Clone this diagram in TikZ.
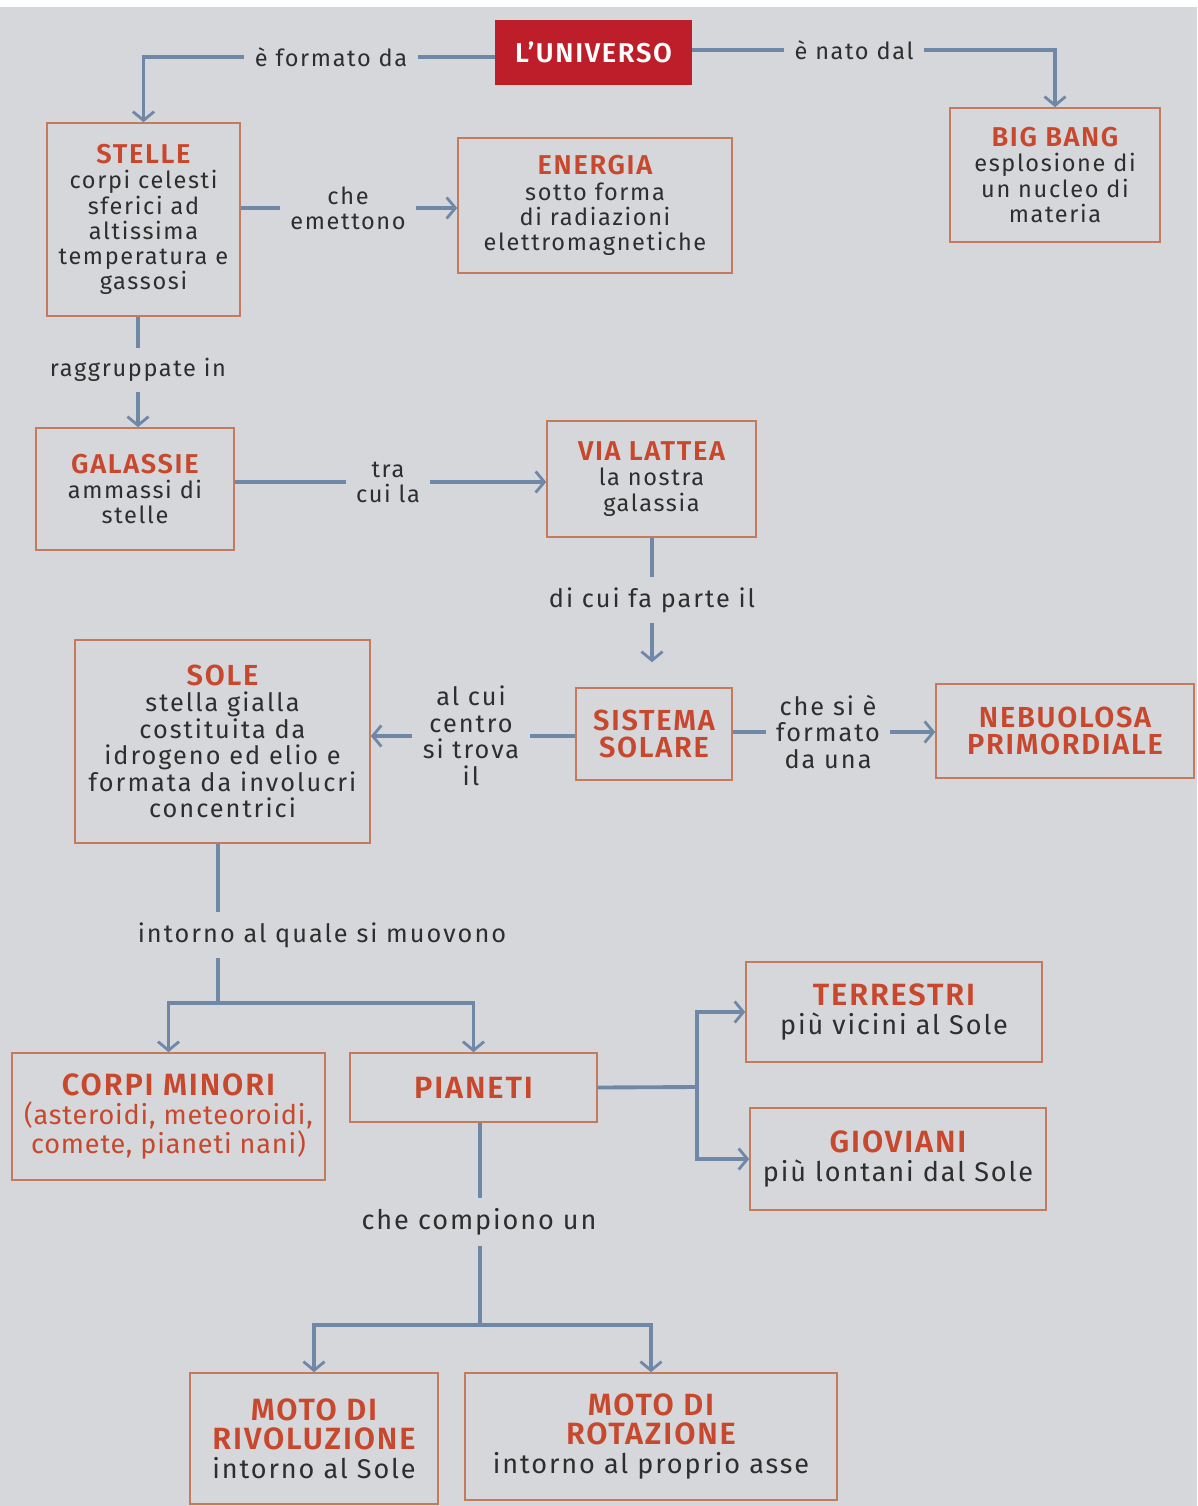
\documentclass[tikz,border=0pt]{standalone}
\usepackage{fontspec}
\setmainfont{Fira Sans}
\newfontfamily\ttlfont{Fira Sans SemiBold}
\usetikzlibrary{arrows.meta,calc}
\definecolor{bg}{HTML}{D6D7DA}
\definecolor{conn}{HTML}{7088A8}
\definecolor{ttlc}{HTML}{C8482E}
\definecolor{bord}{HTML}{C47A5C}
\definecolor{txt}{HTML}{2E2E2E}
\definecolor{univc}{HTML}{BE1E2A}
\newcommand{\bfa}{\fontsize{13.4}{14.3}\selectfont\addfontfeatures{LetterSpace=7}}
\newcommand{\bfb}{\fontsize{14.4}{15.1}\selectfont\addfontfeatures{LetterSpace=8}}
\newcommand{\bfc}{\fontsize{15.4}{16.6}\selectfont\addfontfeatures{LetterSpace=7}}
\newcommand{\bfcn}{\fontsize{15.4}{16.6}\selectfont\addfontfeatures{LetterSpace=3}}
\newcommand{\ttlsz}{15.5}
\newcommand{\ttl}[1]{{\color{ttlc}\ttlfont\fontsize{\ttlsz}{\ttlsz}\selectfont\addfontfeatures{LetterSpace=6}#1}}
\begin{document}
\begin{tikzpicture}[x=0.02cm,y=-0.02cm,
  box/.style={draw=bord, line width=0.9pt, align=center, inner sep=2pt, text=txt, font=\bfa},
  lab/.style={align=center, text=txt, font=\bfa, inner sep=0.2cm},
  rowb/.style={font=\bfb, execute at begin node={\renewcommand{\ttlsz}{16.5}}},
  rowc/.style={font=\bfc, execute at begin node={\renewcommand{\ttlsz}{17.5}}},
  conline/.style={draw=conn, line width=2.2pt},
  conarr/.style={conline, -{Straight Barb[length=5pt,width=12pt,line width=1.6pt]}}]
\useasboundingbox (0,0) rectangle (1197,1506);
\fill[bg] (0,0) rectangle (1197,1506);
\fill[white] (0,0) rectangle (1197,7);
% boxes
\node[fill=univc, text=white, font=\ttlfont\fontsize{15.5}{15.5}\selectfont\addfontfeatures{LetterSpace=6}, minimum width=3.94cm, minimum height=1.30cm, inner sep=0pt] (univ) at (593.5,52.5) {L’UNIVERSO};
\node[box, minimum width=3.86cm, minimum height=3.86cm] (stelle) at (143.5,219.5) {\ttl{STELLE}\\corpi celesti\\sferici ad\\altissima\\temperatura e\\gassosi};
\node[box, minimum width=5.48cm, minimum height=2.70cm] (energia) at (595,205.5) {\ttl{ENERGIA}\\sotto forma\\di radiazioni\\elettromagnetiche};
\node[box, minimum width=4.2cm, minimum height=2.68cm] (bigbang) at (1055,175) {\ttl{BIG BANG}\\esplosione di\\un nucleo di\\materia};
\node[box, minimum width=3.96cm, minimum height=2.44cm] (galassie) at (135,489) {\ttl{GALASSIE}\\ammassi di\\stelle};
\node[box, minimum width=4.18cm, minimum height=2.32cm] (vialattea) at (651.5,479) {\ttl{VIA LATTEA}\\la nostra\\galassia};
\node[box, rowb, minimum width=5.9cm, minimum height=4.06cm] (sole) at (222.5,741.5) {\ttl{SOLE}\\stella gialla\\costituita da\\idrogeno ed elio e\\formata da involucri\\concentrici};
\node[box, rowb, minimum width=3.12cm, minimum height=1.84cm] (sistema) at (654,734) {\ttl{SISTEMA}\\\ttl{SOLARE}};
\node[box, rowb, minimum width=5.16cm, minimum height=1.88cm] (nebulosa) at (1065,731) {\ttl{NEBUOLOSA}\\\ttl{PRIMORDIALE}};
\node[box, rowc, font=\bfcn, minimum width=6.26cm, minimum height=2.54cm] (corpi) at (168.5,1116.5) {\ttl{CORPI MINORI}\\{\color{ttlc}(asteroidi, meteoroidi,}\\{\color{ttlc}comete, pianeti nani)}};
\node[box, rowc, minimum width=4.94cm, minimum height=1.38cm] (pianeti) at (473.5,1087.5) {\ttl{PIANETI}};
\node[box, rowc, minimum width=5.92cm, minimum height=2.0cm] (terrestri) at (894,1012) {\ttl{TERRESTRI}\\più vicini al Sole};
\node[box, rowc, minimum width=5.92cm, minimum height=2.04cm] (gioviani) at (898,1159) {\ttl{GIOVIANI}\\più lontani dal Sole};
\node[box, rowc, minimum width=4.96cm, minimum height=2.62cm] (rivoluzione) at (314,1438.5) {\ttl{MOTO DI}\\\ttl{RIVOLUZIONE}\\intorno al Sole};
\node[box, rowc, minimum width=7.44cm, minimum height=2.54cm] (rotazione) at (651,1436.5) {\ttl{MOTO DI}\\\ttl{ROTAZIONE}\\intorno al proprio asse};
% labels
\node[lab] (l1) at (331,57) {è formato da};
\node[lab] (l2) at (854,50) {è nato dal};
\node[lab] (l3) at (348,208) {che\\emettono};
\node[lab] (l4) at (138,370) {raggruppate in};
\node[lab] (l5) at (388,482) {tra\\cui la};
\node[lab, rowb] (l6) at (652,600) {di cui fa parte il};
\node[lab, rowb] (l7) at (471,736) {al cui\\centro\\si trova\\il};
\node[lab, rowb] (l8) at (828,732) {che si è\\formato\\da una};
\node[lab, rowb] (l9) at (322,935) {intorno al quale si muovono};
\node[lab, rowc] (l10) at (479,1222) {che compiono un};
% connectors
\draw[conline] (univ.west |- l1) -- (l1.east);
\draw[conarr] (l1.west) -| (stelle.north);
\draw[conline] (univ.east |- l2) -- (l2.west);
\draw[conarr] (l2.east) -| (bigbang.north);
\draw[conline] (stelle.east |- l3) -- (l3.west);
\draw[conarr] (l3.east) -- (energia.west |- l3);
\draw[conline] (stelle.south -| l4) -- (l4.north);
\draw[conarr] (l4.south) -- (galassie.north -| l4);
\draw[conline] (galassie.east |- l5) -- (l5.west);
\draw[conarr] (l5.east) -- (vialattea.west |- l5);
\draw[conline] (vialattea.south -| l6) -- (l6.north);
\draw[conarr, shorten >=0.5cm] (l6.south) -- (sistema.north -| l6);
\draw[conline] (sistema.west |- l7) -- (l7.east);
\draw[conarr] (l7.west) -- (sole.east |- l7);
\draw[conline] (sistema.east |- l8) -- (l8.west);
\draw[conarr] (l8.east) -- (nebulosa.west |- l8);
\coordinate (j1) at (218,1003);
\draw[conline] (sole.south -| j1) -- (j1 |- l9.north);
\draw[conline] (j1 |- l9.south) -- (j1);
\draw[conarr] (j1) -| (corpi.north);
\draw[conarr] (j1) -| (pianeti.north);
\coordinate (j2) at (697,1087);
\draw[conline] (pianeti.east) -- (j2);
\draw[conarr] (j2) |- (terrestri.west);
\draw[conarr] (j2) |- (gioviani.west);
\coordinate (j3) at (480,1325);
\draw[conline] (pianeti.south -| j3) -- (j3 |- l10.north);
\draw[conline] (j3 |- l10.south) -- (j3);
\draw[conarr] (j3) -| (rivoluzione.north);
\draw[conarr] (j3) -| (rotazione.north);
\end{tikzpicture}
\end{document}
